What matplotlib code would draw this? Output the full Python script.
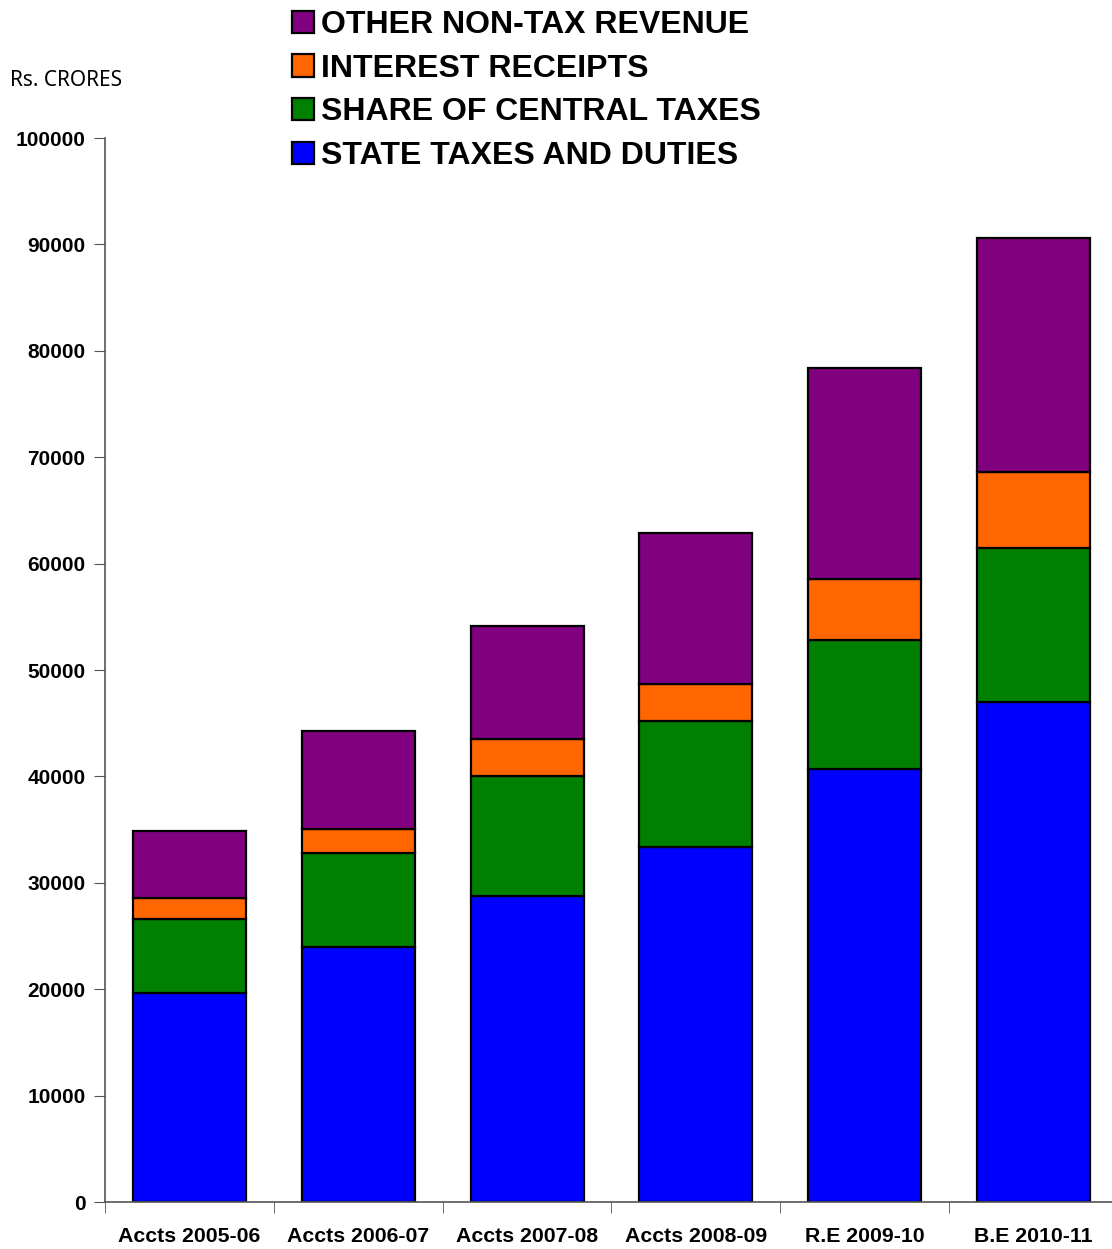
import matplotlib.pyplot as plt
from matplotlib.patches import Patch
import numpy as np

years = ['Accts 2005-06', 'Accts 2006-07', 'Accts 2007-08', 'Accts 2008-09', 'R.E 2009-10', 'B.E 2010-11']
state_taxes = [19640, 23970, 28760, 33360, 40700, 46990]
central_share = [6960, 8830, 11280, 11840, 12120, 14480]
interest = [1970, 2260, 3480, 3480, 5730, 7140]
other_nontax = [6300, 9210, 10640, 14200, 19830, 21990]

series = [
    ('STATE TAXES AND DUTIES', state_taxes, '#0000FF'),
    ('SHARE OF CENTRAL TAXES', central_share, '#008000'),
    ('INTEREST RECEIPTS', interest, '#FF6600'),
    ('OTHER NON-TAX REVENUE', other_nontax, '#800080'),
]

plt.rcParams['font.family'] = ['Liberation Sans', 'DejaVu Sans']

fig = plt.figure(figsize=(11.12, 12.49), dpi=100)
ax = fig.add_axes([105/1112, 47/1249, (1118-105)/1112, (1202-138)/1249])

x = np.arange(len(years))
bottom = np.zeros(len(years))
handles = []
for name, vals, col in series:
    ax.bar(x, vals, 0.67, bottom=bottom, color=col, edgecolor='black', linewidth=1.6)
    bottom += np.array(vals)
    handles.append(Patch(facecolor=col, edgecolor='black', linewidth=1.6, label=name))

ax.set_xlim(-0.5, 5.5)
ax.set_ylim(0, 100000)
ax.set_yticks(np.arange(0, 100001, 10000))
ax.set_yticklabels([str(v) for v in range(0, 100001, 10000)], fontsize=15, fontweight='bold')
ax.set_xticks(x)
ax.set_xticklabels(years, fontsize=15.3, fontweight='bold')
ax.tick_params(axis='x', which='major', length=0, pad=18)
ax.set_xticks(np.arange(-0.5, 6, 1), minor=True)
ax.tick_params(axis='x', which='minor', length=8, color='#555555')
ax.tick_params(axis='y', length=8, color='#555555', pad=6)
for s in ['top', 'right']:
    ax.spines[s].set_visible(False)
for s in ['left', 'bottom']:
    ax.spines[s].set_color('#555555')
    ax.spines[s].set_linewidth(1.2)

fig.text(10/1112, 1 - 80/1249, 'Rs. CRORES', fontsize=15, family='Noto Sans', va='center')

fig.legend(handles=handles[::-1], loc='upper left', bbox_to_anchor=(292/1112, 1 - 10/1249),
           frameon=False, prop={'size': 23, 'weight': 'bold'}, handlelength=0.7, handleheight=0.7,
           handletextpad=0.22, labelspacing=0.43, borderpad=0, borderaxespad=0)

fig.savefig('out.png', dpi=100)
